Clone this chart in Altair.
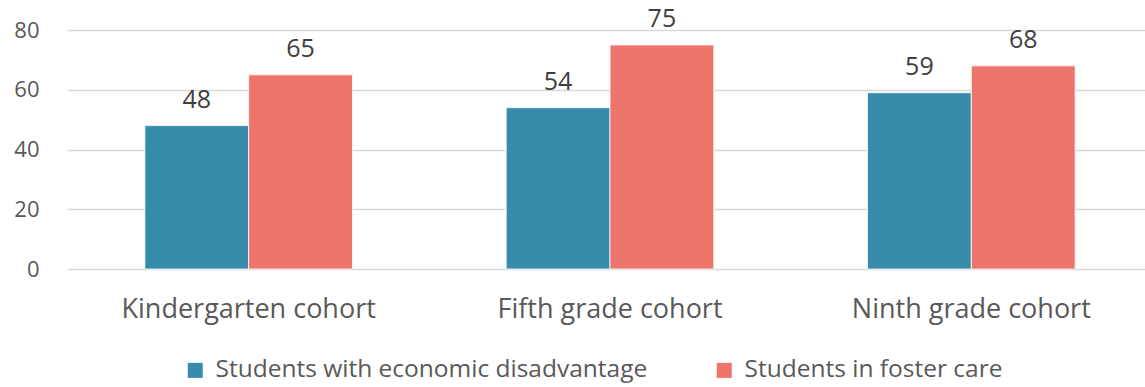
import altair as alt
import pandas as pd

cohorts = ["Kindergarten cohort", "Fifth grade cohort", "Ninth grade cohort"]
series = ["Students with economic disadvantage", "Students in foster care"]
economic = [48, 54, 59]
foster = [65, 75, 68]
colors = ["#378BAB", "#EE756B"]

rows = []
for c, e, f in zip(cohorts, economic, foster):
    rows.append({"cohort": c, "group": series[0], "value": e})
    rows.append({"cohort": c, "group": series[1], "value": f})
df = pd.DataFrame(rows)

FONT = "Open Sans"

x = alt.X(
    "cohort:N",
    sort=cohorts,
    title=None,
    scale=alt.Scale(paddingInner=0.4254, paddingOuter=0.2155, range=[0, 1086]),
    axis=alt.Axis(
        labelAngle=0, domain=False, ticks=False, labelFontSize=27,
        labelColor="#595959", labelFont=FONT, labelPadding=27, labelLimit=0,
    ),
)
xo = alt.XOffset("group:N", sort=series)
y = alt.Y(
    "value:Q",
    title=None,
    scale=alt.Scale(domain=[0, 80], nice=False),
    axis=alt.Axis(
        values=[0, 20, 40, 60, 80], domain=False, ticks=False,
        labelFontSize=22, labelColor="#595959", labelFont=FONT,
        labelPadding=28, gridColor="#d9d9d9", gridWidth=1.5,
    ),
)
color = alt.Color(
    "group:N",
    sort=series,
    scale=alt.Scale(domain=series, range=colors),
    legend=alt.Legend(
        title=None, orient="none", direction="horizontal",
        legendX=116, legendY=328, symbolType="square", symbolSize=225,
        symbolStrokeWidth=0, labelFontSize=24.5, labelColor="#595959",
        labelFont=FONT, columnPadding=64, symbolOffset=0, labelOffset=8,
        labelLimit=0,
    ),
)

bars = alt.Chart(df).mark_bar(stroke="white", strokeWidth=0.8).encode(
    x=x, xOffset=xo, y=y, color=color
)
labels = alt.Chart(df).mark_text(
    baseline="alphabetic", dy=-18, fontSize=25, color="#404040", font=FONT
).encode(x=x, xOffset=xo, y=y, text="value:Q")

chart = (
    alt.layer(bars, labels)
    .properties(
        width=1078, height=239, autosize="none",
        padding={"left": 67, "top": 30, "right": 0, "bottom": 118},
    )
    .configure_view(stroke=None)
)

chart.save("out.html", embed_options={"renderer": "svg", "actions": False})
